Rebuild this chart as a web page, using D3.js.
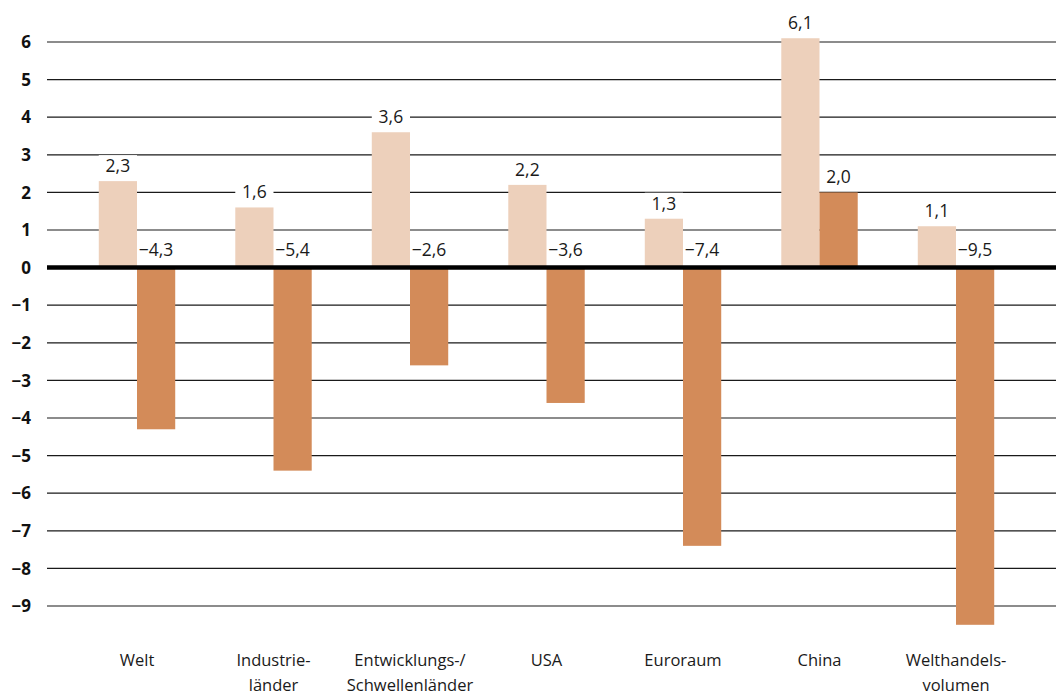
<!DOCTYPE html>
<html>
<head>
<meta charset="utf-8">
<script src="https://cdn.jsdelivr.net/npm/d3@7"></script>
<style>
  body { margin: 0; background: #fff; }
  text { font-family: "Open Sans", "DejaVu Sans", sans-serif; }
</style>
</head>
<body>
<div id="chart"></div>
<script>
var width = 1056,
    height = 694;

// data
var categories = ["Welt", "Industrieländer", "Entwicklungs-/Schwellenländer", "USA", "Euroraum", "China", "Welthandelsvolumen"];
var categoryLines = [["Welt"], ["Industrie-", "länder"], ["Entwicklungs-/", "Schwellenländer"], ["USA"], ["Euroraum"], ["China"], ["Welthandels-", "volumen"]];
var values2019 = [2.3, 1.6, 3.6, 2.2, 1.3, 6.1, 1.1];
var values2020 = [-4.3, -5.4, -2.6, -3.6, -7.4, 2.0, -9.5];
var yTicks = [6, 5, 4, 3, 2, 1, 0, -1, -2, -3, -4, -5, -6, -7, -8, -9];

var lightColor = "#edd0bb",
    darkColor = "#d38b59";

var svg = d3.select("#chart")
    .append("svg")
    .attr("width", width)
    .attr("height", height);

var y = d3.scaleLinear()
    .domain([6, -9])
    .range([42, 606]);

var x = d3.scaleBand()
    .domain(categories)
    .range([68.75, 1024.25])
    .paddingInner(0.44)
    .paddingOuter(0.22);

function fmt(v) {
    return (v < 0 ? "\u2212" : "") + Math.abs(v).toFixed(1).replace(".", ",");
}

// grid lines
svg.append("g")
    .selectAll("line")
    .data(yTicks)
    .enter().append("line")
    .attr("x1", 47)
    .attr("x2", width)
    .attr("y1", function (d) { return y(d); })
    .attr("y2", function (d) { return y(d); })
    .attr("stroke", "#1a1a1a")
    .attr("stroke-width", 1.2);

// tick labels
svg.append("g")
    .selectAll("text")
    .data(yTicks)
    .enter().append("text")
    .attr("x", 31)
    .attr("y", function (d) { return y(d); })
    .attr("dy", "0.36em")
    .attr("text-anchor", "end")
    .attr("font-size", 17)
    .attr("font-weight", "bold")
    .attr("fill", "#111")
    .text(function (d) { return d < 0 ? "\u2212" + Math.abs(d) : d; });

var bw = x.bandwidth() / 2;

function labelY1(i) { return y(Math.max(values2019[i], 0)) - 9; }
function labelY2(i) { return values2020[i] < 0 ? y(0) - 12 : y(values2020[i]) - 9; }

var groups = svg.append("g")
    .selectAll("g")
    .data(categories)
    .enter().append("g");

// label backgrounds (mask the grid lines)
groups.append("rect")
    .attr("x", function (c) { return x(c); })
    .attr("y", function (c, i) { return labelY1(i) - 17; })
    .attr("width", bw).attr("height", 21)
    .attr("fill", "#fff");

groups.append("rect")
    .attr("x", function (c) { return x(c) + bw; })
    .attr("y", function (c, i) { return labelY2(i) - 17; })
    .attr("width", bw).attr("height", 21)
    .attr("fill", "#fff");

// bars
groups.append("rect")
    .attr("x", function (c) { return x(c); })
    .attr("y", function (c, i) { return y(Math.max(values2019[i], 0)); })
    .attr("width", bw)
    .attr("height", function (c, i) { return Math.abs(y(values2019[i]) - y(0)); })
    .attr("fill", lightColor);

groups.append("rect")
    .attr("x", function (c) { return x(c) + bw; })
    .attr("y", function (c, i) { return y(Math.max(values2020[i], 0)); })
    .attr("width", bw)
    .attr("height", function (c, i) { return Math.abs(y(values2020[i]) - y(0)); })
    .attr("fill", darkColor);

// value labels
groups.append("text")
    .attr("x", function (c) { return x(c) + bw / 2; })
    .attr("y", function (c, i) { return labelY1(i); })
    .attr("text-anchor", "middle")
    .attr("font-size", 17.5)
    .attr("fill", "#1a1a1a")
    .text(function (c, i) { return fmt(values2019[i]); });

groups.append("text")
    .attr("x", function (c) { return x(c) + bw * 1.5; })
    .attr("y", function (c, i) { return labelY2(i); })
    .attr("text-anchor", "middle")
    .attr("font-size", 17.5)
    .attr("fill", "#1a1a1a")
    .text(function (c, i) { return fmt(values2020[i]); });

// zero line
svg.append("line")
    .attr("x1", 47)
    .attr("x2", width)
    .attr("y1", y(0))
    .attr("y2", y(0))
    .attr("stroke", "#000")
    .attr("stroke-width", 4.5);

// category labels
groups.append("text")
    .attr("x", function (c) { return x(c) + bw; })
    .attr("y", 666)
    .attr("text-anchor", "middle")
    .attr("font-size", 16.5)
    .attr("fill", "#1a1a1a")
    .selectAll("tspan")
    .data(function (c, i) { return categoryLines[i]; })
    .enter().append("tspan")
    .attr("x", function () { return d3.select(this.parentNode).attr("x"); })
    .attr("dy", function (d, j) { return j === 0 ? 0 : 25; })
    .text(function (d) { return d; });
</script>
</body>
</html>
